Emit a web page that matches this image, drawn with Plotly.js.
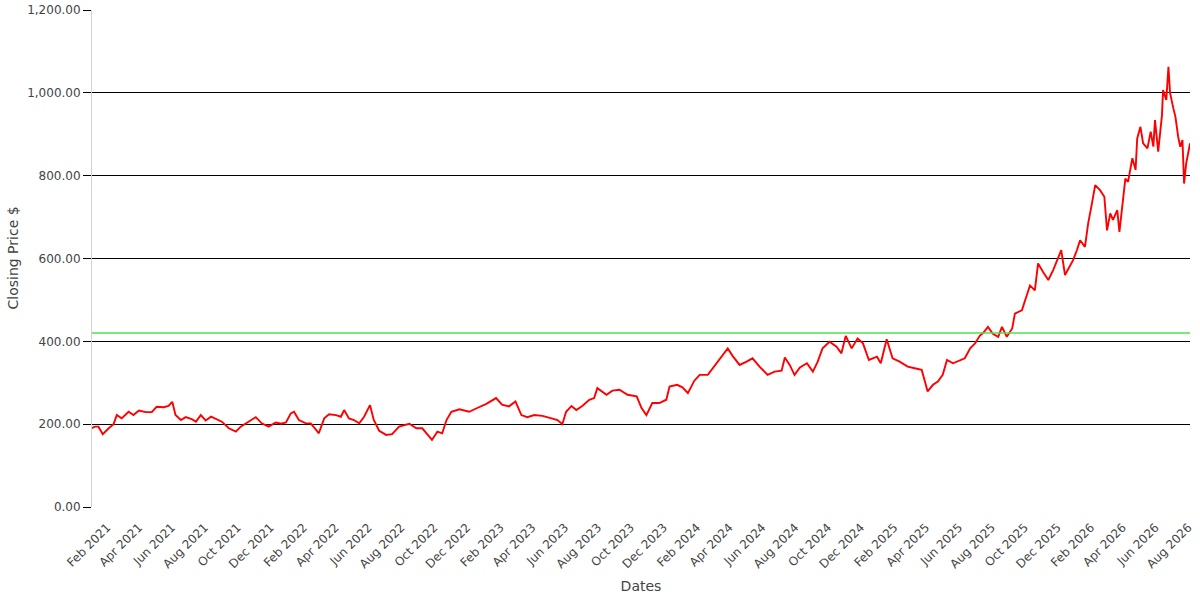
<!DOCTYPE html>
<html>
<head>
<meta charset="utf-8">
<script src="https://cdn.plot.ly/plotly-3.0.1.min.js"></script>
<style>
    html, body { margin: 0; padding: 0; background: #fff; }
    #chart { width: 1200px; height: 600px; }
</style>
</head>
<body>
<div id="chart"></div>
<script>
// closing prices
const dates = [
    "2021-01-04","2021-01-09","2021-01-16","2021-01-24","2021-02-04","2021-02-13","2021-02-19","2021-02-28",
    "2021-03-13","2021-03-22","2021-04-01","2021-04-14","2021-04-25","2021-05-04","2021-05-17","2021-05-26",
    "2021-06-02","2021-06-08","2021-06-18","2021-06-27","2021-07-08","2021-07-16","2021-07-25","2021-08-03",
    "2021-08-13","2021-08-22","2021-09-02","2021-09-15","2021-09-28","2021-10-07","2021-10-17","2021-10-28",
    "2021-11-04","2021-11-15","2021-11-28","2021-12-11","2021-12-21","2021-12-30",
    "2022-01-08","2022-01-14","2022-01-23","2022-02-05","2022-02-14","2022-02-24","2022-03-01","2022-03-11",
    "2022-03-20","2022-04-02","2022-04-11","2022-04-17","2022-04-26","2022-05-05","2022-05-15","2022-05-24",
    "2022-06-04","2022-06-11","2022-06-21","2022-07-04","2022-07-15","2022-07-28","2022-08-16","2022-08-29",
    "2022-09-09","2022-09-22","2022-09-27","2022-10-07","2022-10-16","2022-10-24","2022-11-02","2022-11-17",
    "2022-12-05","2022-12-20",
    "2023-01-06","2023-01-24","2023-02-04","2023-02-17","2023-03-01","2023-03-12","2023-03-23","2023-04-05",
    "2023-04-20","2023-05-07","2023-05-18","2023-05-27","2023-06-03","2023-06-13","2023-06-22","2023-07-03",
    "2023-07-16","2023-07-25","2023-07-31","2023-08-17","2023-08-28","2023-09-10","2023-09-25","2023-10-12",
    "2023-10-21","2023-10-30","2023-11-10","2023-11-23","2023-12-06","2023-12-12","2023-12-26",
    "2024-01-05","2024-01-15","2024-01-27","2024-02-06","2024-02-21","2024-03-04","2024-03-17","2024-03-29",
    "2024-04-07","2024-04-20","2024-05-03","2024-05-14","2024-05-27","2024-06-11","2024-06-24","2024-07-07",
    "2024-07-13","2024-07-22","2024-07-31","2024-08-10","2024-08-23","2024-09-03","2024-09-12","2024-09-21",
    "2024-10-04","2024-10-17","2024-10-26","2024-11-03","2024-11-14","2024-11-25","2024-12-05","2024-12-16",
    "2024-12-31",
    "2025-01-07","2025-01-18","2025-01-29","2025-02-11","2025-02-26","2025-03-11","2025-03-24","2025-03-30",
    "2025-04-04","2025-04-14","2025-04-23","2025-05-02","2025-05-10","2025-05-21","2025-06-03","2025-06-12",
    "2025-06-22","2025-07-01","2025-07-10","2025-07-16","2025-07-25","2025-08-03","2025-08-13","2025-08-20",
    "2025-08-29","2025-09-04","2025-09-08","2025-09-13","2025-09-19","2025-09-26","2025-10-02","2025-10-11",
    "2025-10-20","2025-10-26","2025-11-04","2025-11-14","2025-11-23","2025-12-02","2025-12-08","2025-12-15",
    "2025-12-24","2025-12-30",
    "2026-01-06","2026-01-12","2026-01-21","2026-01-27","2026-02-03","2026-02-09","2026-02-18","2026-02-26",
    "2026-03-03","2026-03-09","2026-03-14","2026-03-22","2026-03-26","2026-03-31","2026-04-06","2026-04-11",
    "2026-04-19","2026-04-25","2026-04-28","2026-05-04","2026-05-09","2026-05-17","2026-05-23","2026-05-28",
    "2026-05-31","2026-06-06","2026-06-13","2026-06-15","2026-06-21","2026-06-25","2026-06-28","2026-07-04",
    "2026-07-08","2026-07-13","2026-07-17","2026-07-21","2026-07-24","2026-07-28","2026-08-04"
];

const closes = [
    190, 194, 194, 176, 190, 200, 222, 214,
    230, 222, 233, 229, 229, 242, 241, 244,
    254, 222, 210, 217, 212, 206, 222, 209,
    218, 212, 206, 190, 182, 194, 202, 210,
    217, 202, 194, 204, 201, 204,
    226, 230, 210, 202, 202, 186, 178, 214,
    224, 222, 218, 234, 214, 210, 202, 218,
    246, 210, 184, 174, 176, 194, 201, 190,
    190, 170, 162, 182, 178, 210, 230, 236,
    230, 239,
    249, 263, 247, 243, 255, 222, 217, 222,
    220, 214, 210, 200, 230, 244, 234, 244,
    259, 263, 287, 271, 281, 283, 271, 267,
    239, 222, 251, 251, 259, 291, 295,
    289, 275, 305, 319, 319, 339, 363, 383,
    365, 343, 351, 359, 339, 319, 327, 329,
    361, 343, 319, 337, 347, 327, 351, 383,
    399, 387, 371, 413, 383, 407, 395, 355,
    363,
    347, 405, 359, 351, 339, 335, 331, 303,
    279, 295, 303, 319, 355, 347, 355, 359,
    383, 395, 414, 420, 435, 418, 411, 435,
    411, 425, 431, 467, 470, 475, 499, 535,
    523, 588, 568, 548, 572, 600, 620, 560,
    584, 596,
    620, 644, 628, 685, 733, 777, 765, 749,
    668, 709, 693, 717, 664, 725, 793, 785,
    842, 814, 890, 918, 878, 866, 906, 870,
    934, 858, 946, 1007, 983, 1063, 1000, 963,
    942, 894, 870, 886, 781, 830, 878
];

const threshold = 420;

const yTicks = [0, 200, 400, 600, 800, 1000, 1200];

const data = [
    {
        x: dates,
        y: closes,
        type: "scatter",
        mode: "lines",
        line: { color: "red", width: 1.9 },
        hoverinfo: "x+y",
        showlegend: false
    },
    {
        x: [dates[0], dates[dates.length - 1]],
        y: [threshold, threshold],
        type: "scatter",
        mode: "lines",
        line: { color: "#4fe04f", width: 1.6 },
        hoverinfo: "skip",
        showlegend: false
    }
];

const layout = {
    width: 1200,
    height: 600,
    margin: { l: 92, r: 10, t: 10, b: 93 },
    font: { family: "DejaVu Sans", size: 12, color: "#444" },
    paper_bgcolor: "#fff",
    plot_bgcolor: "#fff",
    showlegend: false,
    xaxis: {
        title: { text: "Dates", font: { size: 14 }, standoff: 10 },
        type: "date",
        autorange: true,
        dtick: "M2",
        tick0: "2021-02-01",
        tickformat: "%b %Y",
        tickangle: -45,
        ticklabelstandoff: 10,
        showgrid: false,
        zeroline: false,
        showline: false,
        ticks: "",
        automargin: false
    },
    yaxis: {
        range: [0, 1200],
        tickvals: yTicks,
        tickformat: ",.2f",
        gridcolor: "#000",
        gridwidth: 1,
        zeroline: false,
        showline: true,
        linecolor: "#d3d3d3",
        linewidth: 1,
        ticks: "outside",
        ticklen: 8,
        tickcolor: "#000",
        automargin: false
    },
    // y title placed by hand so it sits at the far left like the reference
    annotations: [
        {
            text: "Closing Price $",
            xref: "paper", yref: "paper",
            x: 0, y: 0.5,
            xanchor: "center", yanchor: "middle",
            xshift: -80,
            textangle: -90,
            showarrow: false,
            font: { size: 14, color: "#444" }
        }
    ]
};

Plotly.newPlot("chart", data, layout, { displayModeBar: false, staticPlot: true });
</script>
</body>
</html>
